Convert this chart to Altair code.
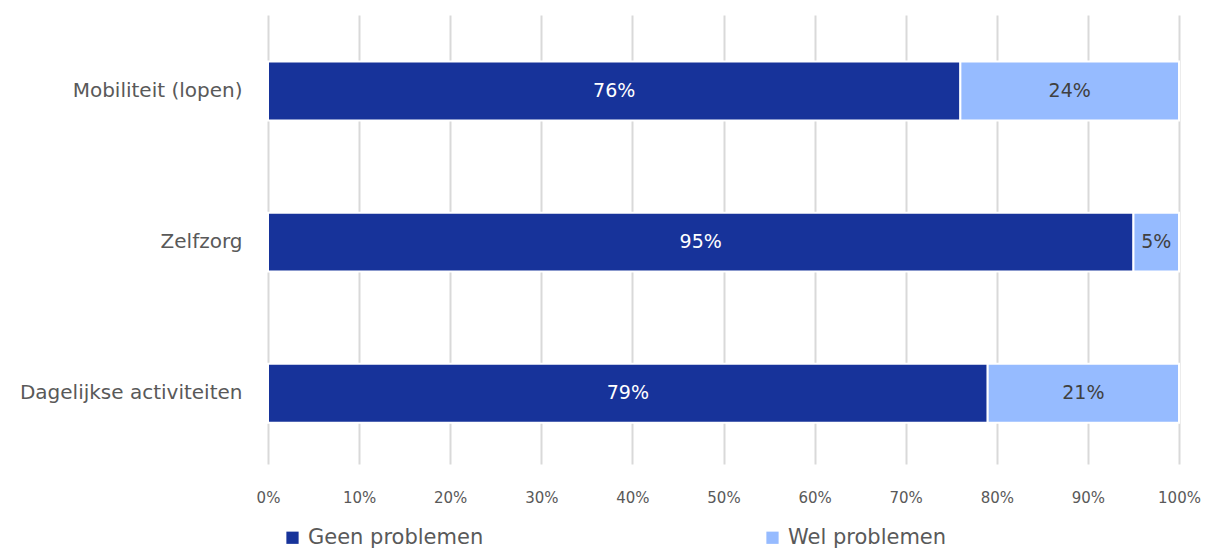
import altair as alt
import pandas as pd

categories = ["Mobiliteit (lopen)", "Zelfzorg", "Dagelijkse activiteiten"]
geen = [76, 95, 79]
wel = [24, 5, 21]
series = ["Geen problemen", "Wel problemen"]
colors = ["#17339A", "#96BBFF"]
text_colors = ["#FFFFFF", "#404040"]

rows = []
for c, g, w in zip(categories, geen, wel):
    start = 0
    for s, v, tc in zip(series, [g, w], text_colors):
        rows.append({
            "cat": c, "series": s, "value": v / 100,
            "start": start / 100, "end": (start + v) / 100,
            "mid": (start + v / 2) / 100, "label": f"{v}%", "tc": tc,
        })
        start += v
df = pd.DataFrame(rows)

FONT = "DejaVu Sans"

y = alt.Y("cat:N", sort=categories, title=None,
          scale=alt.Scale(paddingInner=0.61, paddingOuter=0.29, align=0.53),
          axis=alt.Axis(labelFontSize=20, labelColor="#595959", labelFont=FONT,
                        ticks=False, domain=False, labelPadding=26, grid=False,
                        labelLimit=300))

bars = alt.Chart(df).mark_bar(stroke="white", strokeWidth=2).encode(
    x=alt.X("start:Q", title=None,
            scale=alt.Scale(domain=[0, 1], nice=False),
            axis=alt.Axis(format="%", values=[i / 10 for i in range(11)],
                          labelFontSize=15, labelColor="#595959", labelFont=FONT,
                          labelOverlap=False, labelFlush=False,
                          ticks=False, domain=False, labelPadding=26,
                          grid=True, gridColor="#D9D9D9", gridWidth=2)),
    x2="end:Q",
    y=y,
    color=alt.Color("series:N", scale=alt.Scale(domain=series, range=colors),
                    legend=alt.Legend(title=None, orient="none", legendX=14, legendY=512,
                                      direction="horizontal", symbolType="square",
                                      symbolSize=150, symbolStrokeWidth=0,
                                      labelFontSize=21, labelColor="#595959", labelFont=FONT,
                                      columnPadding=278, labelOffset=5, labelLimit=300)),
)

labels = alt.Chart(df).mark_text(fontSize=19, font=FONT).encode(
    x="mid:Q",
    y=alt.Y("cat:N", sort=categories),
    text="label:N",
    color=alt.Color("tc:N", scale=None, legend=None),
)

chart = alt.layer(bars, labels).properties(
    width=911, height=449,
    autosize=alt.AutoSizeParams(type="none"),
    padding={"left": 268, "top": 15, "right": 30, "bottom": 85},
).configure(font=FONT).configure_view(stroke=None)

chart.save("out.html", embed_options={"renderer": "svg", "actions": False})
